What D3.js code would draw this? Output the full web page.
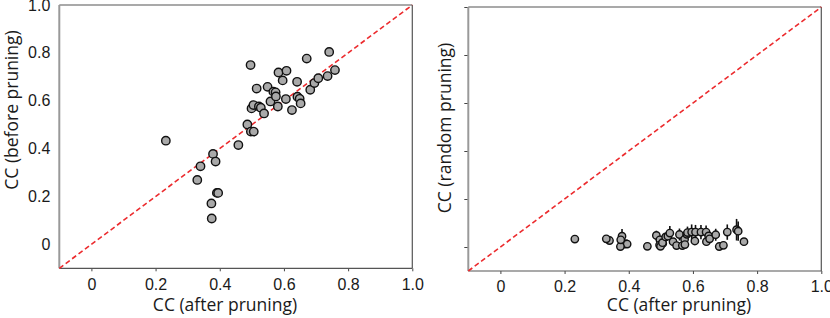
<!DOCTYPE html>
<html>
<head>
<meta charset="utf-8">
<script src="https://cdnjs.cloudflare.com/ajax/libs/d3/7.8.5/d3.min.js"></script>
<style>
  body { margin: 0; background: #fff; }
  .tick text { font-family: "Liberation Sans", Arial, sans-serif; font-size: 16px; fill: #1a1a1a; }
  .axisLabel { font-family: "Open Sans", "Noto Sans", sans-serif; font-size: 17.5px; fill: #1a1a1a; }
</style>
</head>
<body>
<div id="chart"></div>
<script>

// data: CC after pruning (x), before pruning (left y),
// random pruning mean and std (right y)

var afterCC  = [0.232, 0.340, 0.330, 0.379, 0.387, 0.391, 0.395, 0.374, 0.375, 0.458,
                0.486, 0.497, 0.506, 0.496, 0.499, 0.505, 0.515, 0.522, 0.528, 0.538,
                0.549, 0.558, 0.567, 0.574, 0.575, 0.581, 0.583, 0.596, 0.606, 0.608,
                0.625, 0.641, 0.642, 0.649, 0.652, 0.671, 0.682, 0.695, 0.707, 0.736,
                0.741, 0.759];
var beforeCC = [0.433, 0.326, 0.269, 0.378, 0.346, 0.215, 0.215, 0.171, 0.108, 0.415,
                0.501, 0.471, 0.471, 0.749, 0.568, 0.582, 0.651, 0.576, 0.571, 0.547,
                0.658, 0.597, 0.638, 0.635, 0.618, 0.576, 0.718, 0.685, 0.607, 0.725,
                0.561, 0.679, 0.617, 0.608, 0.589, 0.776, 0.646, 0.674, 0.694, 0.703,
                0.804, 0.728];
var randomCC = [0.033, 0.027, 0.034, 0.045, 0.012, 0.014, 0.012, 0.002, 0.030, 0.003,
                0.048, 0.030, 0.015, 0.008, 0.003, 0.018, 0.042, 0.045, 0.058, 0.022,
                0.006, 0.052, 0.006, 0.032, 0.010, 0.053, 0.060, 0.062, 0.025, 0.062,
                0.062, 0.062, 0.022, 0.046, 0.034, 0.051, 0.002, 0.007, 0.062, 0.072,
                0.066, 0.022];
var randomErr = [0.005, 0.005, 0.005, 0.030, 0.008, 0.006, 0.006, 0.006, 0.010, 0.005,
                 0.020, 0.008, 0.008, 0.006, 0.006, 0.008, 0.012, 0.010, 0.030, 0.008,
                 0.006, 0.025, 0.006, 0.012, 0.006, 0.018, 0.025, 0.032, 0.008, 0.030,
                 0.030, 0.028, 0.008, 0.014, 0.008, 0.025, 0.006, 0.006, 0.032, 0.045,
                 0.040, 0.006];

var xTicks = [0, 0.2, 0.4, 0.6, 0.8, 1.0];
var yTicks = [0, 0.2, 0.4, 0.6, 0.8, 1.0];
var tickLabel = function(d){ return d === 0 ? "0" : d3.format(".1f")(d); };

var svg = d3.select("#chart").append("svg")
    .attr("width", 830)
    .attr("height", 318);

function drawPanel(p)
{
    var x = d3.scaleLinear().domain([-0.1, 1.0]).range([p.left, p.right]);
    var y = d3.scaleLinear().domain([-0.1, 1.0]).range([p.bottom, p.top]);
    var g = svg.append("g");

    // axes
    var xAxis = g.append("g")
        .attr("transform", "translate(0," + p.bottom + ")")
        .call(d3.axisBottom(x).tickValues(xTicks).tickFormat(tickLabel).tickSize(3).tickPadding(7));
    var yAxis = g.append("g")
        .attr("transform", "translate(" + p.left + ",0)")
        .call(d3.axisLeft(y).tickValues(yTicks)
              .tickFormat(p.yLabels ? tickLabel : "")
              .tickSize(p.yLabels ? 0 : 4).tickPadding(9));
    xAxis.select(".domain").remove();
    yAxis.select(".domain").remove();
    g.selectAll(".tick line").attr("stroke", "#444");

    // box
    g.append("line").attr("x1", p.left).attr("x2", p.right).attr("y1", p.top).attr("y2", p.top)
        .attr("stroke", "#555").attr("stroke-width", 1.2);
    g.append("line").attr("x1", p.left).attr("x2", p.right).attr("y1", p.bottom).attr("y2", p.bottom)
        .attr("stroke", "#555").attr("stroke-width", 1.2);
    g.append("line").attr("x1", p.right).attr("x2", p.right).attr("y1", p.top).attr("y2", p.bottom)
        .attr("stroke", "#555").attr("stroke-width", 1.2);
    g.append("line").attr("x1", p.left).attr("x2", p.left).attr("y1", p.top).attr("y2", p.bottom)
        .attr("stroke", "#999").attr("stroke-width", 2);

    // unity line
    g.append("line")
        .attr("x1", x(-0.1)).attr("y1", y(-0.1))
        .attr("x2", x(1.0)).attr("y2", y(1.0))
        .attr("stroke", "#ec2b2e")
        .attr("stroke-width", 1.6)
        .attr("stroke-dasharray", "5,3");

    var idx = d3.range(afterCC.length);

    // error bars
    if (p.err) {
        g.selectAll(".err").data(idx).enter().append("line")
            .attr("class", "err")
            .attr("x1", function(i){ return x(afterCC[i]); })
            .attr("x2", function(i){ return x(afterCC[i]); })
            .attr("y1", function(i){ return y(p.yVals[i] - p.err[i]); })
            .attr("y2", function(i){ return y(p.yVals[i] + p.err[i]); })
            .attr("stroke", "#111")
            .attr("stroke-width", 1.6);
    }

    // points
    g.selectAll(".pt").data(idx).enter().append("circle")
        .attr("class", "pt")
        .attr("cx", function(i){ return x(afterCC[i]); })
        .attr("cy", function(i){ return y(p.yVals[i]); })
        .attr("r", p.r)
        .attr("fill", "#a9a9a9")
        .attr("stroke", "#111")
        .attr("stroke-width", 1.4);

    // labels
    g.append("text").attr("class", "axisLabel")
        .attr("text-anchor", "middle")
        .attr("x", p.xLabelX).attr("y", 311)
        .text("CC (after pruning)");
    g.append("text").attr("class", "axisLabel")
        .attr("text-anchor", "middle")
        .attr("transform", "translate(" + p.yLabelX + "," + p.yLabelY + ") rotate(-90)")
        .text(p.yTitle);
}

drawPanel({left: 59.3, right: 412.3, top: 5, bottom: 268.3, yVals: beforeCC, err: null,
           r: 4.2, yLabels: true, yTitle: "CC (before pruning)", xLabelX: 225, yLabelX: 18, yLabelY: 110});
drawPanel({left: 468.3, right: 821.3, top: 7, bottom: 271, yVals: randomCC, err: randomErr,
           r: 3.7, yLabels: false, yTitle: "CC (random pruning)", xLabelX: 679, yLabelX: 451, yLabelY: 128});

</script>
</body>
</html>
